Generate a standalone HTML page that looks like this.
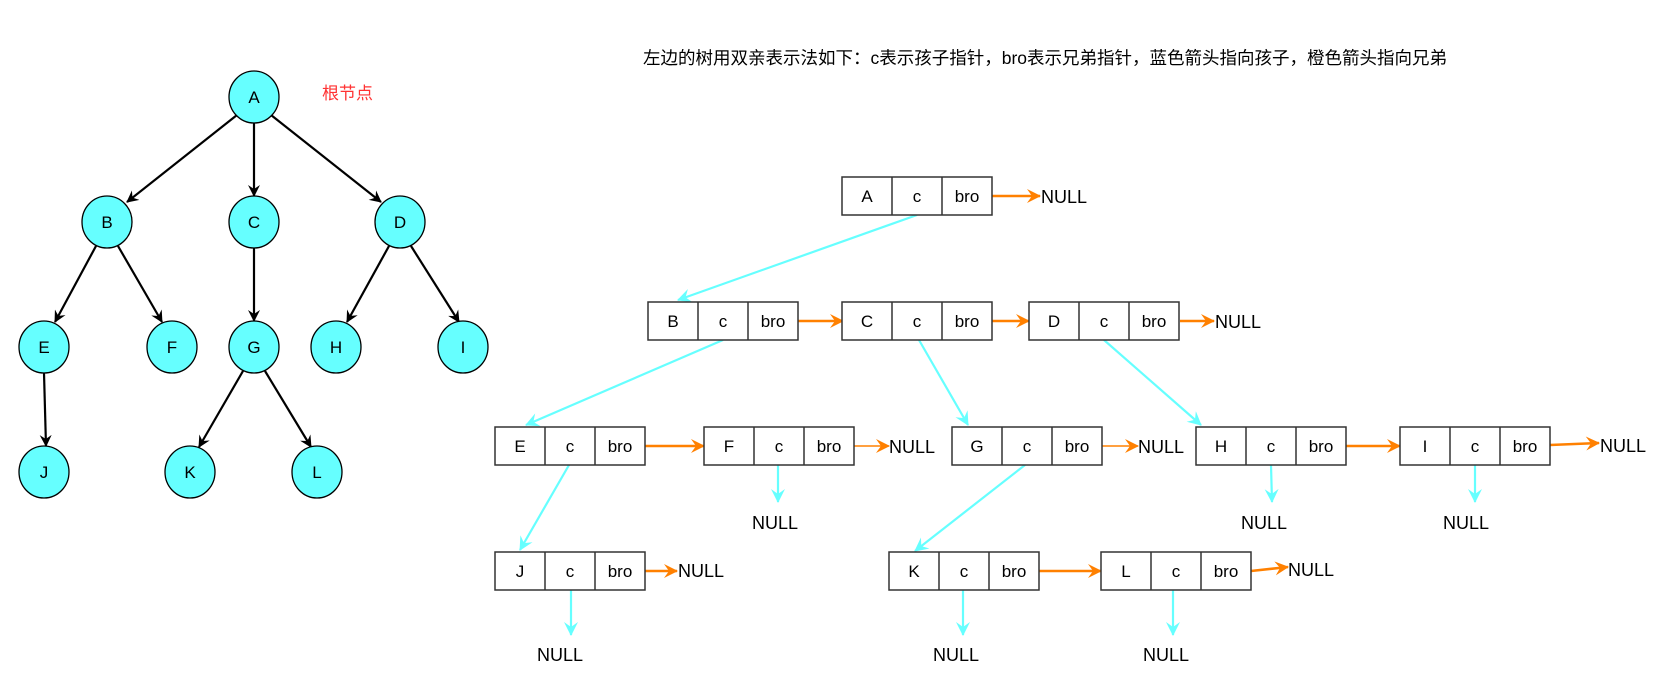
<!DOCTYPE html>
<html><head><meta charset="utf-8"><style>
html,body{margin:0;padding:0;background:#fff;}
svg{display:block;}
text{font-family:"Liberation Sans","Noto Sans CJK SC",sans-serif;}
</style></head><body>
<svg width="1660" height="700" viewBox="0 0 1660 700" xmlns="http://www.w3.org/2000/svg">
<defs>
<marker id="mb" markerWidth="12" markerHeight="12" refX="11" refY="6" orient="auto" markerUnits="userSpaceOnUse"><path d="M0,0 L12,6 L0,12 L4,6 Z" fill="#000"/></marker>
<marker id="mo" markerWidth="14" markerHeight="14" refX="13" refY="7" orient="auto" markerUnits="userSpaceOnUse"><path d="M0,0 L14,7 L0,14 L5,7 Z" fill="#ff8000"/></marker>
<marker id="mc" markerWidth="14" markerHeight="14" refX="13" refY="7" orient="auto" markerUnits="userSpaceOnUse"><path d="M0,0 L14,7 L0,14 L5,7 Z" fill="#66ffff"/></marker>
</defs>

<!-- title -->
<text x="643" y="64" font-size="17.5" fill="#000">左边的树用双亲表示法如下：c表示孩子指针，bro表示兄弟指针，蓝色箭头指向孩子，橙色箭头指向兄弟</text>
<text x="322" y="99" font-size="17" fill="#ff3333">根节点</text>

<!-- tree edges -->
<g stroke="#000" stroke-width="2.2" marker-end="url(#mb)">
<line x1="237" y1="115" x2="127" y2="202"/>
<line x1="254" y1="123" x2="254" y2="196"/>
<line x1="271" y1="115" x2="381" y2="202"/>
<line x1="96" y1="246" x2="55" y2="322"/>
<line x1="118" y1="246" x2="162" y2="322"/>
<line x1="254" y1="248" x2="254" y2="321"/>
<line x1="389" y1="246" x2="347" y2="322"/>
<line x1="411" y1="246" x2="459" y2="322"/>
<line x1="44" y1="373" x2="46" y2="446"/>
<line x1="243" y1="371" x2="199" y2="447"/>
<line x1="265" y1="371" x2="311" y2="447"/>
</g>
<g fill="#66ffff" stroke="#000" stroke-width="1.3">
<ellipse cx="254" cy="97" rx="25" ry="26"/>
<ellipse cx="107" cy="222" rx="25" ry="26"/>
<ellipse cx="254" cy="222" rx="25" ry="26"/>
<ellipse cx="400" cy="222" rx="25" ry="26"/>
<ellipse cx="44" cy="347" rx="25" ry="26"/>
<ellipse cx="172" cy="347" rx="25" ry="26"/>
<ellipse cx="254" cy="347" rx="25" ry="26"/>
<ellipse cx="336" cy="347" rx="25" ry="26"/>
<ellipse cx="463" cy="347" rx="25" ry="26"/>
<ellipse cx="44" cy="472" rx="25" ry="26"/>
<ellipse cx="190" cy="472" rx="25" ry="26"/>
<ellipse cx="317" cy="472" rx="25" ry="26"/>
</g>
<g font-size="17" text-anchor="middle" fill="#000">
<text x="254" y="103">A</text><text x="107" y="228">B</text><text x="254" y="228">C</text><text x="400" y="228">D</text>
<text x="44" y="353">E</text><text x="172" y="353">F</text><text x="254" y="353">G</text><text x="336" y="353">H</text>
<text x="463" y="353">I</text><text x="44" y="478">J</text><text x="190" y="478">K</text><text x="317" y="478">L</text>
</g>

<!-- cyan child arrows -->
<g stroke="#66ffff" stroke-width="2.2" marker-end="url(#mc)">
<line x1="917" y1="215" x2="678" y2="300"/>
<line x1="723" y1="340" x2="526" y2="425"/>
<line x1="919" y1="340" x2="968" y2="425"/>
<line x1="1104" y1="340" x2="1201" y2="425"/>
<line x1="569" y1="465" x2="520" y2="550"/>
<line x1="1025" y1="465" x2="915" y2="551"/>
<line x1="778" y1="465" x2="778" y2="502"/>
<line x1="1271" y1="465" x2="1272" y2="502"/>
<line x1="1475" y1="465" x2="1475" y2="502"/>
<line x1="571" y1="590" x2="571" y2="635"/>
<line x1="963" y1="590" x2="963" y2="635"/>
<line x1="1173" y1="590" x2="1173" y2="635"/>
</g>

<!-- orange sibling arrows -->
<g stroke="#ff8000" stroke-width="2.6" marker-end="url(#mo)">
<line x1="992" y1="196" x2="1040" y2="196"/>
<line x1="797" y1="321" x2="843" y2="321"/>
<line x1="992" y1="321" x2="1029" y2="321"/>
<line x1="1180" y1="321" x2="1214" y2="321"/>
<line x1="645" y1="446" x2="704" y2="446"/>
<line x1="854" y1="446" x2="889" y2="446" stroke-width="1.5"/>
<line x1="1102" y1="446" x2="1138" y2="446" stroke-width="1.5"/>
<line x1="1346" y1="446" x2="1400" y2="446"/>
<line x1="1550" y1="445" x2="1599" y2="443"/>
<line x1="645" y1="571" x2="677" y2="571"/>
<line x1="1039" y1="571" x2="1101" y2="571"/>
<line x1="1251" y1="571" x2="1288" y2="567"/>
</g>

<!-- list nodes -->
<g fill="#fff" stroke="#333" stroke-width="1.5">
<rect x="842" y="177" width="150" height="38"/>
<rect x="648" y="302" width="150" height="38"/>
<rect x="842" y="302" width="150" height="38"/>
<rect x="1029" y="302" width="150" height="38"/>
<rect x="495" y="427" width="150" height="38"/>
<rect x="704" y="427" width="150" height="38"/>
<rect x="952" y="427" width="150" height="38"/>
<rect x="1196" y="427" width="150" height="38"/>
<rect x="1400" y="427" width="150" height="38"/>
<rect x="495" y="552" width="150" height="38"/>
<rect x="889" y="552" width="150" height="38"/>
<rect x="1101" y="552" width="150" height="38"/>
</g>
<g stroke="#333" stroke-width="1.5">
<path d="M892,177v38M942,177v38 M698,302v38M748,302v38 M892,302v38M942,302v38 M1079,302v38M1129,302v38 M545,427v38M595,427v38 M754,427v38M804,427v38 M1002,427v38M1052,427v38 M1246,427v38M1296,427v38 M1450,427v38M1500,427v38 M545,552v38M595,552v38 M939,552v38M989,552v38 M1151,552v38M1201,552v38"/>
</g>
<g font-size="17" text-anchor="middle" fill="#000">
<text x="867" y="202">A</text><text x="917" y="202">c</text><text x="967" y="202">bro</text>
<text x="673" y="327">B</text><text x="723" y="327">c</text><text x="773" y="327">bro</text>
<text x="867" y="327">C</text><text x="917" y="327">c</text><text x="967" y="327">bro</text>
<text x="1054" y="327">D</text><text x="1104" y="327">c</text><text x="1154" y="327">bro</text>
<text x="520" y="452">E</text><text x="570" y="452">c</text><text x="620" y="452">bro</text>
<text x="729" y="452">F</text><text x="779" y="452">c</text><text x="829" y="452">bro</text>
<text x="977" y="452">G</text><text x="1027" y="452">c</text><text x="1077" y="452">bro</text>
<text x="1221" y="452">H</text><text x="1271" y="452">c</text><text x="1321" y="452">bro</text>
<text x="1425" y="452">I</text><text x="1475" y="452">c</text><text x="1525" y="452">bro</text>
<text x="520" y="577">J</text><text x="570" y="577">c</text><text x="620" y="577">bro</text>
<text x="914" y="577">K</text><text x="964" y="577">c</text><text x="1014" y="577">bro</text>
<text x="1126" y="577">L</text><text x="1176" y="577">c</text><text x="1226" y="577">bro</text>
</g>

<!-- NULL labels -->
<g font-size="18" fill="#000">
<text x="1041" y="203">NULL</text>
<text x="1215" y="328">NULL</text>
<text x="889" y="453">NULL</text>
<text x="1138" y="453">NULL</text>
<text x="1600" y="452">NULL</text>
<text x="678" y="577">NULL</text>
<text x="1288" y="576">NULL</text>
</g>
<g font-size="18" fill="#000" text-anchor="middle">
<text x="775" y="529">NULL</text>
<text x="1264" y="529">NULL</text>
<text x="1466" y="529">NULL</text>
<text x="560" y="661">NULL</text>
<text x="956" y="661">NULL</text>
<text x="1166" y="661">NULL</text>
</g>
</svg>
</body></html>
